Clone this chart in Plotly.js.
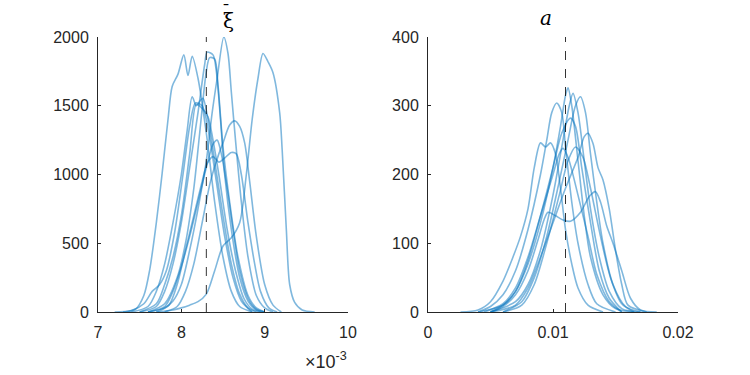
<!DOCTYPE html>
<html>
<head>
<meta charset="utf-8">
<script src="https://cdn.plot.ly/plotly-3.0.1.min.js"></script>
<style>
  html, body { margin: 0; padding: 0; background: #fff; }
  #chart { width: 750px; height: 375px; }
</style>
</head>
<body>
<div id="chart"></div>
<script>
// xi-bar densities, x in units of 1e-3
const xiX1 = [7.3, 7.45, 7.55, 7.62, 7.7, 7.77, 7.84, 7.89, 7.96, 8.03, 8.08, 8.13, 8.2, 8.3, 8.4, 8.5, 8.6, 8.7, 8.85];
const xiY1 = [0, 20, 120, 305, 650, 1010, 1400, 1640, 1730, 1870, 1720, 1860, 1700, 1300, 800, 400, 150, 40, 0];
const xiX2 = [7.7, 7.9, 8.0, 8.1, 8.2, 8.3, 8.4, 8.5, 8.6, 8.7, 8.78, 8.85, 8.92, 8.98, 9.04, 9.1, 9.18, 9.21, 9.26, 9.3, 9.36, 9.45, 9.6];
const xiY2 = [0, 15, 30, 50, 75, 130, 300, 480, 540, 650, 1000, 1400, 1700, 1880, 1820, 1740, 1450, 1180, 600, 200, 70, 15, 0];
const xiX3 = [7.6, 7.8, 7.9, 8.0, 8.1, 8.2, 8.3, 8.37, 8.43, 8.51, 8.56, 8.6, 8.65, 8.72, 8.8, 8.9, 9.0, 9.1];
const xiY3 = [0, 30, 80, 200, 450, 750, 1100, 1450, 1700, 2000, 1880, 1600, 1250, 800, 400, 120, 30, 0];
const xiX4 = [7.5, 7.7, 7.8, 7.9, 8.0, 8.1, 8.2, 8.28, 8.31, 8.38, 8.42, 8.47, 8.52, 8.6, 8.7, 8.8, 8.9, 9.0];
const xiY4 = [0, 40, 150, 350, 650, 1050, 1450, 1800, 1890, 1870, 1750, 1400, 1000, 600, 250, 80, 15, 0];
const xiX5 = [7.4, 7.6, 7.7, 7.8, 7.9, 8.0, 8.07, 8.13, 8.18, 8.23, 8.26, 8.32, 8.4, 8.5, 8.6, 8.7, 8.8, 8.9];
const xiY5 = [0, 40, 150, 350, 650, 1000, 1320, 1565, 1500, 1540, 1555, 1400, 1100, 700, 350, 130, 30, 0];
const xiX6 = [7.5, 7.7, 7.8, 7.9, 8.0, 8.1, 8.18, 8.25, 8.32, 8.38, 8.45, 8.55, 8.65, 8.75, 8.85, 8.95];
const xiY6 = [0, 60, 200, 400, 700, 1150, 1510, 1480, 1420, 1250, 1000, 600, 300, 100, 20, 0];
const xiX7 = [7.8, 7.95, 8.05, 8.15, 8.25, 8.35, 8.45, 8.5, 8.58, 8.64, 8.7, 8.76, 8.82, 8.9, 9.0, 9.1, 9.2];
const xiY7 = [0, 40, 150, 350, 650, 950, 1150, 1230, 1360, 1390, 1350, 1230, 950, 550, 200, 50, 0];
const xiX8 = [7.7, 7.85, 7.95, 8.05, 8.15, 8.25, 8.31, 8.38, 8.45, 8.52, 8.6, 8.66, 8.72, 8.8, 8.88, 8.95, 9.05, 9.15];
const xiY8 = [0, 50, 200, 450, 700, 950, 1080, 1130, 1090, 1120, 1160, 1150, 1000, 650, 350, 150, 30, 0];
const xiX9 = [7.6, 7.8, 7.9, 8.0, 8.1, 8.2, 8.3, 8.38, 8.43, 8.48, 8.55, 8.62, 8.7, 8.8, 8.9, 9.0];
const xiY9 = [0, 40, 150, 330, 550, 800, 1050, 1220, 1250, 1150, 900, 600, 300, 100, 20, 0];
const xiX10 = [7.2, 7.4, 7.55, 7.65, 7.74, 7.82, 7.92, 8.02, 8.1, 8.17, 8.25, 8.33, 8.42, 8.52, 8.62, 8.72, 8.85];
const xiY10 = [0, 10, 60, 150, 200, 300, 580, 1000, 1350, 1520, 1500, 1300, 950, 550, 250, 80, 0];
const xiX11 = [7.6, 7.8, 7.95, 8.05, 8.15, 8.22, 8.3, 8.34, 8.4, 8.44, 8.5, 8.58, 8.68, 8.8, 8.9, 9.0];
const xiY11 = [0, 60, 250, 500, 900, 1300, 1750, 1850, 1840, 1650, 1200, 800, 400, 120, 30, 0];
const xiMean = 8.3;

// a densities
const aX1 = [0.0026, 0.004, 0.005, 0.006, 0.0068, 0.0074, 0.008, 0.0085, 0.009, 0.0094, 0.0098, 0.0102, 0.0106, 0.011, 0.0115, 0.012, 0.0128, 0.014];
const aY1 = [0, 3, 15, 45, 80, 110, 150, 210, 246, 240, 246, 230, 180, 120, 70, 35, 10, 0];
const aX2 = [0.004, 0.005, 0.006, 0.007, 0.008, 0.009, 0.0095, 0.0099, 0.0103, 0.0107, 0.011, 0.0115, 0.012, 0.0128, 0.0135, 0.015];
const aY2 = [0, 8, 25, 60, 120, 200, 250, 290, 304, 290, 240, 160, 100, 40, 12, 0];
const aX3 = [0.005, 0.006, 0.007, 0.008, 0.009, 0.01, 0.0106, 0.011, 0.0112, 0.0115, 0.012, 0.0125, 0.013, 0.014, 0.015, 0.0165];
const aY3 = [0, 10, 30, 70, 130, 210, 270, 315, 326, 300, 220, 140, 80, 25, 5, 0];
const aX4 = [0.005, 0.007, 0.008, 0.009, 0.01, 0.0108, 0.0113, 0.0116, 0.012, 0.0125, 0.013, 0.0137, 0.0145, 0.0155, 0.017];
const aY4 = [0, 15, 40, 90, 170, 250, 300, 318, 290, 220, 150, 80, 30, 5, 0];
const aX5 = [0.006, 0.0075, 0.0085, 0.0095, 0.0105, 0.0112, 0.0118, 0.0122, 0.0126, 0.013, 0.0135, 0.014, 0.0148, 0.0158, 0.017];
const aY5 = [0, 15, 50, 110, 190, 250, 300, 313, 290, 230, 160, 100, 40, 8, 0];
const aX6 = [0.004, 0.006, 0.007, 0.008, 0.009, 0.01, 0.0107, 0.0114, 0.0118, 0.0123, 0.013, 0.0137, 0.0145, 0.0155];
const aY6 = [0, 10, 30, 75, 140, 210, 260, 282, 270, 210, 130, 60, 20, 0];
const aX7 = [0.005, 0.007, 0.008, 0.009, 0.01, 0.011, 0.012, 0.0125, 0.0128, 0.0132, 0.0136, 0.014, 0.0145, 0.015, 0.0155, 0.016, 0.0175];
const aY7 = [0, 10, 35, 80, 130, 180, 225, 255, 260, 245, 210, 192, 150, 90, 40, 10, 0];
const aX8 = [0.005, 0.006, 0.007, 0.008, 0.0088, 0.0093, 0.0096, 0.0102, 0.0108, 0.0114, 0.0122, 0.0129, 0.0134, 0.0138, 0.0143, 0.0148, 0.0155, 0.0162, 0.017, 0.0183];
const aY8 = [0, 8, 25, 60, 105, 135, 145, 140, 134, 132, 145, 168, 175, 160, 125, 100, 60, 20, 3, 0];
const aX9 = [0.0045, 0.006, 0.007, 0.008, 0.009, 0.01, 0.0105, 0.0108, 0.0112, 0.012, 0.0128, 0.0135, 0.0145, 0.0155];
const aY9 = [0, 12, 35, 80, 140, 200, 230, 238, 225, 170, 110, 55, 15, 0];
const aX10 = [0.006, 0.0075, 0.0085, 0.0095, 0.0105, 0.0112, 0.0118, 0.0124, 0.013, 0.0138, 0.0146, 0.0155, 0.0165];
const aY10 = [0, 10, 40, 100, 170, 220, 240, 225, 180, 110, 50, 12, 0];
const aMean = 0.011;

const xiSeries = [
  [xiX1, xiY1], [xiX2, xiY2], [xiX3, xiY3], [xiX4, xiY4], [xiX5, xiY5], [xiX6, xiY6],
  [xiX7, xiY7], [xiX8, xiY8], [xiX9, xiY9], [xiX10, xiY10], [xiX11, xiY11]
];
const aSeries = [
  [aX1, aY1], [aX2, aY2], [aX3, aY3], [aX4, aY4], [aX5, aY5],
  [aX6, aY6], [aX7, aY7], [aX8, aY8], [aX9, aY9], [aX10, aY10]
];

const lineColor = 'rgba(0,114,189,0.5)';
const traces = [];

xiSeries.forEach(function (s) {
  traces.push({
    x: s[0], y: s[1], xaxis: 'x', yaxis: 'y',
    mode: 'lines', type: 'scatter',
    line: { color: lineColor, width: 1.6, shape: 'spline', smoothing: 0.8 },
    hoverinfo: 'skip'
  });
});
aSeries.forEach(function (s) {
  traces.push({
    x: s[0], y: s[1], xaxis: 'x2', yaxis: 'y2',
    mode: 'lines', type: 'scatter',
    line: { color: lineColor, width: 1.6, shape: 'spline', smoothing: 0.8 },
    hoverinfo: 'skip'
  });
});
traces.push({
  x: [xiMean, xiMean], y: [0, 2000], xaxis: 'x', yaxis: 'y',
  mode: 'lines', type: 'scatter',
  line: { color: '#000', width: 0.8, dash: 'dash' }
});
traces.push({
  x: [aMean, aMean], y: [0, 400], xaxis: 'x2', yaxis: 'y2',
  mode: 'lines', type: 'scatter',
  line: { color: '#000', width: 0.8, dash: 'dash' }
});

const tickFont = { family: 'Liberation Sans, Arial, sans-serif', size: 16, color: '#262626' };
const axisCommon = {
  showgrid: false, zeroline: false, showline: true,
  linecolor: '#262626', linewidth: 1,
  ticks: 'inside', ticklen: 3, tickcolor: '#262626',
  tickfont: tickFont, mirror: false, fixedrange: true
};

const layout = {
  width: 750, height: 375,
  margin: { l: 0, r: 0, t: 0, b: 0 },
  paper_bgcolor: '#fff', plot_bgcolor: '#fff',
  showlegend: false,
  xaxis: Object.assign({}, axisCommon, {
    domain: [98 / 750, 348 / 750], range: [7, 10],
    tickvals: [7, 8, 9, 10], ticktext: ['7', '8', '9', '10'], anchor: 'y',
    ticklabelstandoff: 6
  }),
  yaxis: Object.assign({}, axisCommon, {
    domain: [1 - 312 / 375, 1 - 37 / 375], range: [0, 2000],
    tickvals: [0, 500, 1000, 1500, 2000], anchor: 'x',
    ticklabelstandoff: 5
  }),
  xaxis2: Object.assign({}, axisCommon, {
    domain: [428 / 750, 678 / 750], range: [0, 0.02],
    tickvals: [0, 0.01, 0.02], ticktext: ['0', '0.01', '0.02'], anchor: 'y2',
    ticklabelstandoff: 6
  }),
  yaxis2: Object.assign({}, axisCommon, {
    domain: [1 - 312 / 375, 1 - 37 / 375], range: [0, 400],
    tickvals: [0, 100, 200, 300, 400], anchor: 'x2',
    ticklabelstandoff: 5
  }),
  annotations: [
    {
      text: 'ξ', xref: 'paper', yref: 'paper',
      x: 221 / 750, y: 1 - 21 / 375, yanchor: 'middle', showarrow: false,
      font: { family: 'DejaVu Serif, serif', size: 20, color: '#000' }
    },
    {
      text: '¯', xref: 'paper', yref: 'paper',
      x: 220 / 750, y: 1, yanchor: 'top', showarrow: false,
      font: { family: 'DejaVu Serif, serif', size: 16, color: '#000' }
    },
    {
      text: '<i>a</i>', xref: 'paper', yref: 'paper',
      x: 554 / 750, y: 1 - 18 / 375, yanchor: 'middle', showarrow: false,
      font: { family: 'DejaVu Serif, serif', size: 20, color: '#000' }
    },
    {
      text: '×10<sup>-3</sup>', xref: 'paper', yref: 'paper',
      x: 349 / 750, y: 1 - 360 / 375, xanchor: 'right', yanchor: 'middle', showarrow: false,
      font: { family: 'Liberation Sans, Arial, sans-serif', size: 18, color: '#262626' }
    }
  ]
};

Plotly.newPlot('chart', traces, layout, { displayModeBar: false, staticPlot: true });
</script>
</body>
</html>
